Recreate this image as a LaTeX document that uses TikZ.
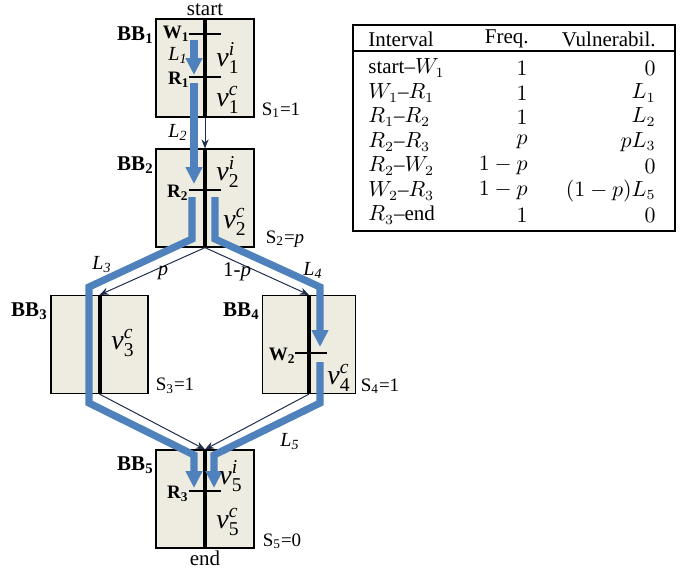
\documentclass[tikz,border=0pt]{standalone}
\usepackage{amsmath}
\usepackage[no-math]{fontspec}
\setmainfont{Liberation Serif}
\usetikzlibrary{arrows.meta}
\definecolor{flowblue}{HTML}{4F81BD}
\definecolor{bbfill}{HTML}{EEECE1}
\definecolor{edgeink}{HTML}{1F2D4D}
\newcommand{\vvar}[2]{$\textit{v}^{\textit{#2}}_{\text{#1}}$}
\begin{document}
\begin{tikzpicture}[x=0.5pt,y=-0.5pt,
  bb/.style={draw=black,line width=0.6pt,fill=bbfill,minimum width=49pt,minimum height=49pt,inner sep=0pt},
  core/.style={line width=2pt},
  tick/.style={line width=0.6pt},
  edge/.style={draw=edgeink,line width=0.5pt,-{Stealth[length=4.5pt,width=3.6pt]}},
  vflow/.style={draw=flowblue,line width=3.6pt,line join=miter},
  vflowtip/.style={vflow,-{Triangle[length=8.5pt,width=8pt]}},
  bblab/.style={font=\fontsize{10.5}{12}\selectfont\bfseries,anchor=east,inner sep=0pt},
  evlab/.style={font=\fontsize{9.5}{11}\selectfont\bfseries,anchor=east,inner sep=0pt},
  vlab/.style={font=\fontsize{14}{16}\selectfont,inner sep=0pt},
  slab/.style={font=\fontsize{9.5}{11}\selectfont,inner sep=0pt},
  llab/.style={font=\fontsize{10}{12}\selectfont\itshape,inner sep=0pt},
  txt/.style={font=\fontsize{10.5}{12}\selectfont,inner sep=0pt},
  cellL/.style={txt,anchor=west},
  cellR/.style={txt,anchor=east},
]
\useasboundingbox (0,0) rectangle (689,569);

% basic blocks
\node[bb] (b1) at (205,68) {};
\node[bb] (b2) at (205,198) {};
\node[bb,minimum width=48.5pt] (b3) at (99.5,344.5) {};
\node[bb,minimum width=46.5pt] (b4) at (309,344.5) {};
\node[bb] (b5) at (205,499) {};

% core line through each block
\foreach \b in {b1,b2,b3,b4,b5}
  \draw[core] (\b.north) -- (\b.south);

% read / write events
\coordinate (w1) at (205,34);
\coordinate (r1) at (205,77);
\coordinate (r2) at (205,190);
\coordinate (w2) at (311,353);
\coordinate (r3) at (205,491);
\foreach \e in {w1,r1,r2,w2,r3}
  \draw[tick] ([xshift=-8pt]\e) -- ([xshift=8pt]\e);

% control-flow edges
\draw[edge] (b1.south) -- (b2.north);
\draw[edge] (b2.south) -- (b3.north);
\draw[edge] (b2.south) -- (b4.north);
\draw[edge] (b3.south) -- (b5.north);
\draw[edge] (b4.south) -- (b5.north);

% vulnerability intervals
\coordinate (f1a) at (194,40);  \coordinate (f1b) at (194,75);
\coordinate (f2a) at (194,83);  \coordinate (f2b) at (194,184);
\coordinate (f3a) at (192,197); \coordinate (f3b) at (192,239);
\coordinate (f3c) at (89,287);  \coordinate (f3d) at (89,403);
\coordinate (f3e) at (194,455); \coordinate (f3f) at (194,488);
\coordinate (f4a) at (215,197); \coordinate (f4b) at (215,239);
\coordinate (f4c) at (320,287); \coordinate (f4d) at (320,347);
\coordinate (f5a) at (320,362); \coordinate (f5b) at (320,403);
\coordinate (f5c) at (214,455); \coordinate (f5d) at (214,488);
\draw[vflowtip] (f1a) -- (f1b);
\draw[vflowtip] (f2a) -- (f2b);
\draw[vflowtip] (f3a) -- (f3b) -- (f3c) -- (f3d) -- (f3e) -- (f3f);
\draw[vflowtip] (f4a) -- (f4b) -- (f4c) -- (f4d);
\draw[vflowtip] (f5a) -- (f5b) -- (f5c) -- (f5d);

% labels
\node[txt] (lstart) at (205,10) {start};
\node[txt] (lend) at (205,558) {end};

\node[bblab] (lbb1) at (154,35) {BB\textsubscript{1}};
\node[bblab] (lbb2) at (154,165) {BB\textsubscript{2}};
\node[bblab] (lbb3) at (48,311) {BB\textsubscript{3}};
\node[bblab] (lbb4) at (260,311) {BB\textsubscript{4}};
\node[bblab] (lbb5) at (154,465) {BB\textsubscript{5}};

\node[evlab] (lw1) at (190,34) {W\textsubscript{1}};
\node[evlab] (lr1) at (190,80) {R\textsubscript{1}};
\node[evlab] (lr2) at (189,193) {R\textsubscript{2}};
\node[evlab] (lw2) at (296,356) {W\textsubscript{2}};
\node[evlab] (lr3) at (189,494) {R\textsubscript{3}};

\node[vlab] (v1i) at (228,58) {\vvar{1}{i}};
\node[vlab] (v1c) at (228,100) {\vvar{1}{c}};
\node[vlab] (v2i) at (228,172) {\vvar{2}{i}};
\node[vlab] (v2c) at (235,222) {\vvar{2}{c}};
\node[vlab] (v3c) at (123,343) {\vvar{3}{c}};
\node[vlab] (v4c) at (339,378) {\vvar{4}{c}};
\node[vlab] (v5i) at (231,476) {\vvar{5}{i}};
\node[vlab] (v5c) at (228,522) {\vvar{5}{c}};

\node[slab] (s1) at (281,110) {S\textsubscript{1}=1};
\node[slab] (s2) at (285,239) {S\textsubscript{2}=\textit{p}};
\node[slab] (s3) at (175,386) {S\textsubscript{3}=1};
\node[slab] (s4) at (380,386) {S\textsubscript{4}=1};
\node[slab] (s5) at (282,541) {S\textsubscript{5}=0};

\node[llab] (l1) at (178,55) {L\textsubscript{1}};
\node[llab] (l2) at (178,132) {L\textsubscript{2}};
\node[llab] (l3) at (102,265) {L\textsubscript{3}};
\node[llab] (l4) at (313,270) {L\textsubscript{4}};
\node[llab] (l5) at (290,442) {L\textsubscript{5}};
\node[llab] (lp) at (163,273) {p};
\node[txt] (lq) at (237,272) {1-\textit{p}};

% interval table
\draw[line width=0.6pt] (353,25) rectangle (675,231);
\draw[line width=0.6pt] (353,51) -- (675,51);
\node[cellL] (h1) at (368,39) {Interval};
\node[cellR] (h2) at (529,39) {Freq.};
\node[cellR] (h3) at (656,39) {Vulnerabil.};

\node[cellL] (a1) at (368,68) {start--$W_1$};
\node[cellL] (a2) at (368,93) {$W_1$--$R_1$};
\node[cellL] (a3) at (368,117) {$R_1$--$R_2$};
\node[cellL] (a4) at (368,142) {$R_2$--$R_3$};
\node[cellL] (a5) at (368,166) {$R_2$--$W_2$};
\node[cellL] (a6) at (368,191) {$W_2$--$R_3$};
\node[cellL] (a7) at (368,215) {$R_3$--end};

\node[cellR] (c1) at (528,68) {$1$};
\node[cellR] (c2) at (528,93) {$1$};
\node[cellR] (c3) at (528,117) {$1$};
\node[cellR] (c4) at (528,142) {$p$};
\node[cellR] (c5) at (528,166) {$1-p$};
\node[cellR] (c6) at (528,191) {$1-p$};
\node[cellR] (c7) at (528,215) {$1$};

\node[cellR] (d1) at (656,68) {$0$};
\node[cellR] (d2) at (656,93) {$L_1$};
\node[cellR] (d3) at (656,117) {$L_2$};
\node[cellR] (d4) at (656,142) {$pL_3$};
\node[cellR] (d5) at (656,166) {$0$};
\node[cellR] (d6) at (656,191) {$(1-p)L_5$};
\node[cellR] (d7) at (656,215) {$0$};
\end{tikzpicture}
\end{document}
